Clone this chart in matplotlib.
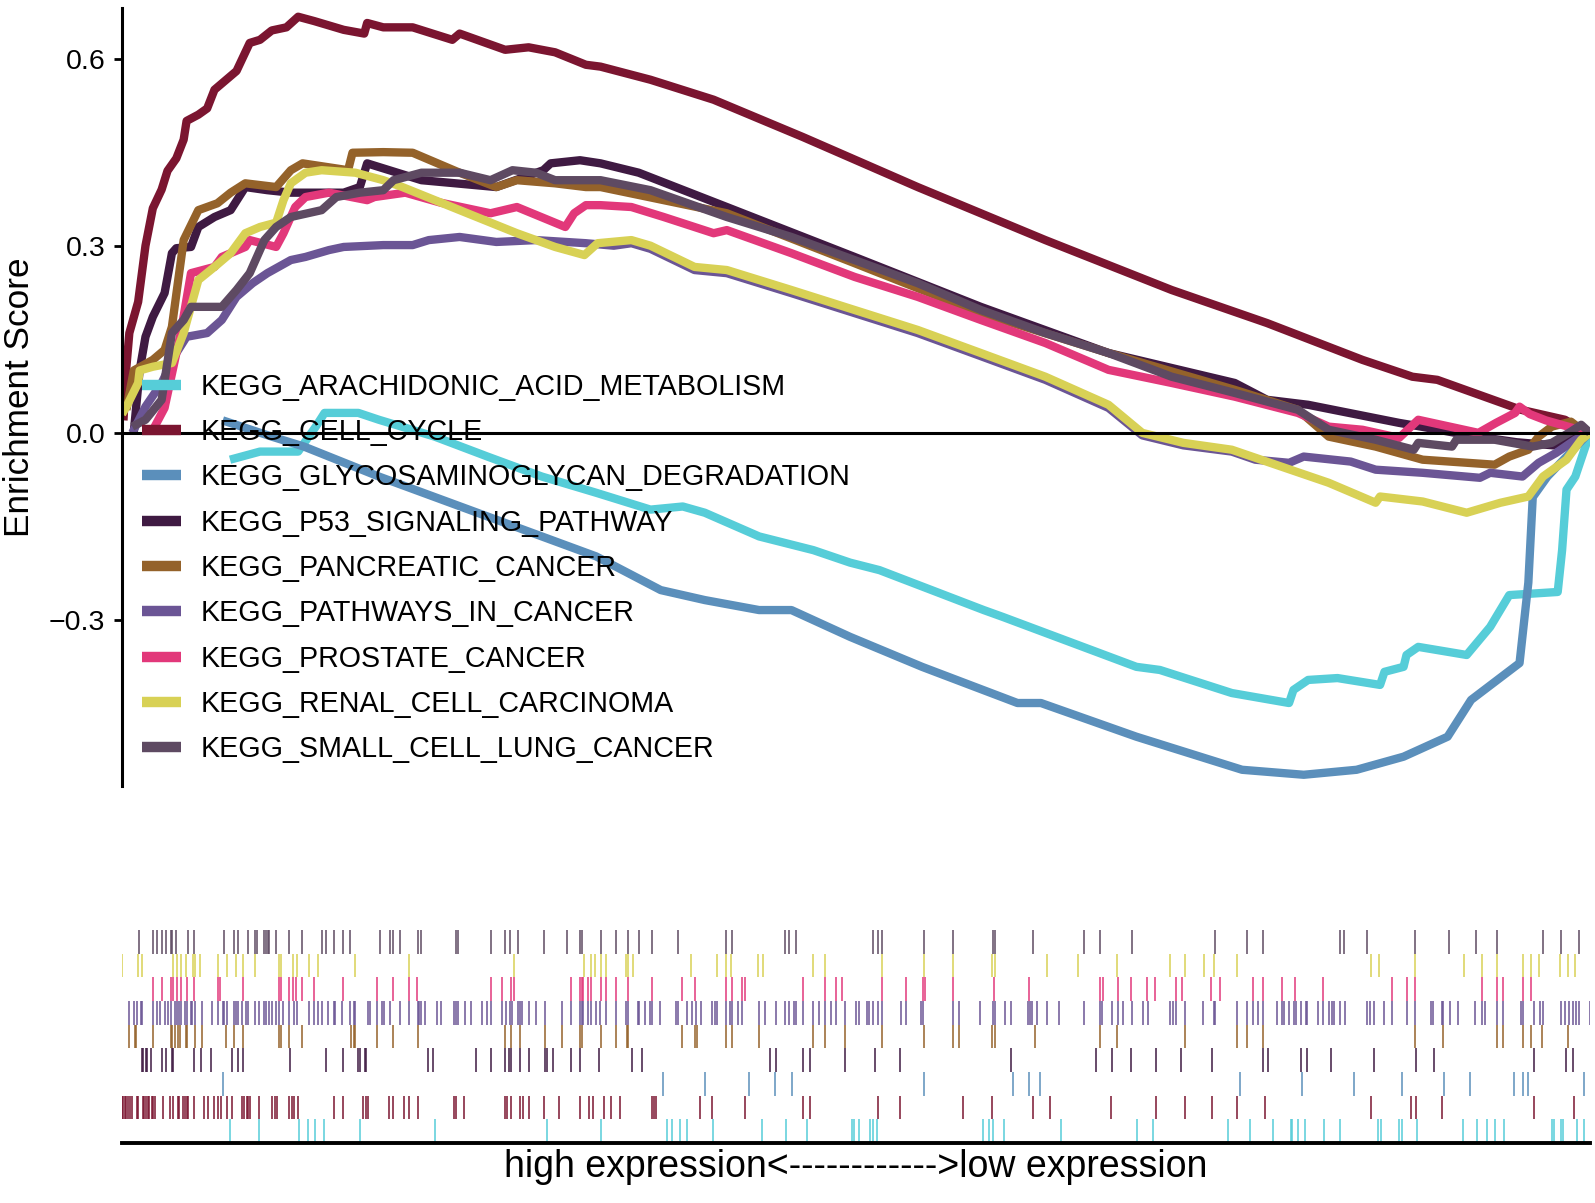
import matplotlib
matplotlib.use("Agg")
import matplotlib.pyplot as plt
from matplotlib.lines import Line2D

plt.rcParams['font.family'] = ['Liberation Sans', 'DejaVu Sans']

# ---------------- data ----------------
gene_sets = ["KEGG_ARACHIDONIC_ACID_METABOLISM", "KEGG_CELL_CYCLE",
             "KEGG_GLYCOSAMINOGLYCAN_DEGRADATION", "KEGG_P53_SIGNALING_PATHWAY",
             "KEGG_PANCREATIC_CANCER", "KEGG_PATHWAYS_IN_CANCER",
             "KEGG_PROSTATE_CANCER", "KEGG_RENAL_CELL_CARCINOMA",
             "KEGG_SMALL_CELL_LUNG_CANCER"]
colors = ["#56CDD8", "#7B1530", "#5B8FBB", "#3F1A42", "#94622A",
          "#6B5595", "#E2387A", "#D8D155", "#5E4A62"]

# running enrichment score (x = rank position in % of ranked list)
arach_x = [7.36, 9.4, 12.0, 12.6, 13.2, 13.8, 16.1, 17.5, 21.3, 24.9, 28.6, 32.3, 36.0, 38.2, 39.7,
           43.4, 47.1, 49.6, 51.6, 58.7, 60.0, 69.1, 70.7, 75.6, 79.5, 79.8, 80.8, 82.8, 85.7, 86.0,
           87.3, 87.5, 88.3, 91.6, 93.2, 94.5, 97.8, 98.1, 98.4, 99.0, 100]
arach_es = [-0.043, -0.03, -0.03, -0.01, 0.01, 0.032, 0.032, 0.021, -0.006, -0.038, -0.07, -0.096,
            -0.123, -0.118, -0.128, -0.166, -0.188, -0.208, -0.22, -0.284, -0.295, -0.375, -0.38,
            -0.417, -0.433, -0.412, -0.396, -0.393, -0.404, -0.383, -0.375, -0.356, -0.343, -0.356,
            -0.311, -0.26, -0.255, -0.188, -0.091, -0.07, 0.0]

cellcycle_x = [0.1, 0.3, 0.5, 1.1, 1.6, 2.1, 2.7, 3.1, 3.7, 4.2, 4.4, 5.2, 5.8, 6.3, 6.8, 7.8, 8.7,
               9.4, 10.2, 11.2, 12.0, 13.1, 15.1, 16.5, 16.7, 17.8, 19.8, 22.5, 23.0, 26.1, 27.7,
               29.5, 31.6, 32.6, 36.0, 40.3, 46.4, 54.2, 62.9, 71.5, 78.0, 84.5, 87.9, 89.6, 95.3,
               98.3, 99.4]
cellcycle_es = [0.02, 0.106, 0.16, 0.21, 0.30, 0.36, 0.39, 0.42, 0.44, 0.47, 0.50, 0.51, 0.52, 0.55,
                0.56, 0.58, 0.625, 0.63, 0.645, 0.65, 0.667, 0.66, 0.646, 0.64, 0.657, 0.65, 0.65,
                0.63, 0.64, 0.614, 0.618, 0.61, 0.59, 0.587, 0.566, 0.534, 0.474, 0.394, 0.309,
                0.229, 0.176, 0.117, 0.09, 0.085, 0.037, 0.021, 0.005]

glyco_x = [6.86, 10.2, 12.4, 17.5, 24.9, 32.3, 36.7, 39.7, 43.4, 45.6, 49.6, 54.5, 61.0, 62.6,
           69.1, 76.3, 80.5, 84.1, 87.3, 90.3, 91.9, 95.2, 95.8, 96.1, 97.1, 98.4, 99.7, 100]
glyco_es = [0.02, -0.006, -0.022, -0.07, -0.134, -0.198, -0.252, -0.268, -0.284, -0.284, -0.327,
            -0.375, -0.433, -0.433, -0.487, -0.54, -0.548, -0.54, -0.519, -0.487, -0.428, -0.369,
            -0.24, -0.103, -0.07, -0.038, -0.006, 0.0]

p53_x = [0.8, 1.2, 1.6, 2.1, 2.9, 3.4, 3.7, 4.7, 5.2, 6.3, 7.4, 8.4, 9.9, 11.5, 15.1, 16.2, 16.7,
         20.4, 25.5, 28.7, 29.2, 31.2, 32.6, 35.2, 41.2, 49.9, 58.5, 67.2, 75.8, 78.0, 80.8, 87.0,
         88.5, 92.0, 95.0, 97.5, 99.4]
p53_es = [0.0, 0.1, 0.154, 0.186, 0.224, 0.288, 0.296, 0.298, 0.33, 0.346, 0.357, 0.394, 0.389,
          0.385, 0.385, 0.394, 0.432, 0.405, 0.394, 0.421, 0.432, 0.437, 0.432, 0.417, 0.362, 0.282,
          0.202, 0.128, 0.08, 0.053, 0.045, 0.016, 0.01, -0.005, -0.015, -0.02, 0.0]

pancreatic_x = [0.3, 0.8, 2.1, 2.9, 3.4, 4.2, 5.2, 6.5, 7.4, 8.4, 10.5, 11.5, 12.3, 15.4, 15.7, 17.8,
                19.8, 23.0, 25.5, 26.9, 29.5, 31.6, 32.6, 41.2, 49.9, 58.5, 67.2, 75.8, 80.1, 82.2,
                85.4, 88.6, 93.5, 94.5, 95.8, 96.5, 97.4, 98.7, 99.7]
pancreatic_es = [0.037, 0.10, 0.117, 0.133, 0.17, 0.309, 0.357, 0.368, 0.385, 0.40, 0.394, 0.421,
                 0.432, 0.421, 0.449, 0.45, 0.449, 0.417, 0.394, 0.405, 0.40, 0.394, 0.394, 0.352,
                 0.272, 0.192, 0.128, 0.069, 0.037, -0.006, -0.022, -0.043, -0.051, -0.038, -0.027,
                 -0.006, 0.01, 0.018, 0.0]

pathways_x = [0.7, 1.6, 2.7, 3.7, 4.4, 5.8, 6.8, 7.8, 8.9, 9.9, 11.5, 12.5, 14.1, 15.1, 17.8, 19.8,
              20.9, 23.0, 25.5, 28.2, 31.6, 33.5, 34.7, 36.0, 39.0, 41.2, 45.6, 49.9, 54.2, 58.5,
              62.9, 67.2, 69.5, 72.3, 75.6, 77.2, 79.5, 80.5, 83.7, 85.4, 88.6, 92.5, 93.2, 95.4,
              96.5, 97.7, 99.0, 100]
pathways_es = [0.0, 0.042, 0.08, 0.128, 0.154, 0.16, 0.181, 0.218, 0.24, 0.256, 0.277, 0.282, 0.293,
               0.298, 0.301, 0.301, 0.309, 0.314, 0.306, 0.309, 0.304, 0.300, 0.304, 0.295, 0.261,
               0.256, 0.224, 0.192, 0.160, 0.123, 0.085, 0.040, -0.004, -0.02, -0.03, -0.043,
               -0.048, -0.038, -0.046, -0.059, -0.064, -0.072, -0.064, -0.07, -0.048, -0.032,
               -0.011, 0.0]

prostate_x = [2.0, 2.9, 4.0, 4.7, 6.3, 6.8, 8.4, 8.7, 10.5, 11.0, 11.8, 12.5, 14.1, 16.7, 17.2, 19.3,
              21.7, 25.1, 26.9, 30.2, 30.8, 31.6, 32.6, 34.7, 36.9, 40.3, 41.2, 45.6, 49.9, 54.2,
              58.5, 62.9, 67.2, 71.5, 75.8, 80.1, 82.2, 84.5, 87.0, 88.3, 92.4, 93.6, 94.9, 95.2,
              95.9, 97.0, 100]
prostate_es = [0.0, 0.04, 0.16, 0.256, 0.266, 0.282, 0.298, 0.309, 0.298, 0.32, 0.362, 0.378, 0.385,
               0.373, 0.378, 0.385, 0.369, 0.352, 0.362, 0.33, 0.352, 0.365, 0.365, 0.362, 0.346,
               0.32, 0.325, 0.288, 0.25, 0.218, 0.181, 0.144, 0.101, 0.08, 0.058, 0.032, 0.01,
               0.005, -0.008, 0.021, 0.0, 0.016, 0.032, 0.042, 0.03, 0.02, 0.0]

renal_x = [0.0, 0.3, 1.1, 1.2, 2.1, 3.4, 4.2, 5.2, 6.3, 7.4, 8.4, 9.4, 10.5, 11.0, 11.5, 12.5, 13.6,
           15.9, 17.8, 19.1, 23.0, 26.9, 29.5, 31.5, 32.4, 34.7, 36.0, 39.0, 41.2, 45.6, 49.9, 54.2,
           58.5, 62.9, 67.2, 69.5, 72.3, 75.6, 82.2, 85.4, 85.7, 88.6, 91.6, 93.9, 95.8, 96.8, 98.4,
           99.4, 100]
renal_es = [0.03, 0.042, 0.08, 0.10, 0.106, 0.112, 0.16, 0.245, 0.266, 0.288, 0.32, 0.33, 0.337,
            0.373, 0.40, 0.417, 0.421, 0.417, 0.405, 0.394, 0.357, 0.32, 0.298, 0.285, 0.304, 0.309,
            0.30, 0.266, 0.261, 0.229, 0.197, 0.165, 0.128, 0.09, 0.045, 0.0, -0.016, -0.027,
            -0.08, -0.112, -0.102, -0.11, -0.128, -0.112, -0.102, -0.07, -0.043, -0.011, 0.0]

sclc_x = [0.7, 1.6, 2.7, 3.4, 4.2, 4.7, 6.8, 7.8, 8.7, 9.7, 10.5, 11.5, 13.6, 14.6, 16.2, 17.8, 18.5,
          19.3, 20.4, 23.0, 25.1, 26.6, 28.2, 29.5, 31.6, 32.6, 36.0, 41.2, 45.6, 49.9, 54.2, 58.5,
          62.9, 67.2, 71.5, 75.8, 80.1, 82.2, 85.4, 88.0, 88.3, 90.6, 90.9, 93.5, 96.1, 97.4, 98.7,
          99.4, 100]
sclc_es = [0.01, 0.021, 0.053, 0.16, 0.181, 0.202, 0.202, 0.229, 0.256, 0.309, 0.33, 0.346, 0.357,
           0.378, 0.385, 0.389, 0.405, 0.41, 0.417, 0.417, 0.405, 0.421, 0.417, 0.405, 0.405, 0.405,
           0.389, 0.346, 0.314, 0.277, 0.24, 0.197, 0.16, 0.128, 0.09, 0.064, 0.037, 0.005, -0.011,
           -0.027, -0.016, -0.022, -0.011, -0.011, -0.022, -0.016, 0.002, 0.013, 0.0]

# hit positions (rank position in %)
arach_hits = [7.36, 9.30, 12.07, 12.64, 13.16, 13.77, 16.23, 21.3, 28.93, 32.63, 37.1, 37.49, 38.01,
              38.47, 40.24, 43.58, 45.24, 46.64, 49.7, 49.88, 50.2, 50.95, 51.18, 51.41, 58.68,
              59.08, 59.35, 60.11, 63.95, 69.12, 70.26, 75.32, 76.84, 78.43, 79.61, 79.72, 80.13,
              80.58, 81.9, 82.97, 85.54, 85.74, 87.01, 87.22, 88.19, 91.37, 92.28, 92.96, 93.53,
              94.17, 97.39, 97.55, 98.0, 98.14, 99.14, 99.59]
cellcycle_hits = [0.0, 0.1, 0.2, 0.3, 0.4, 0.55, 0.65, 1.0, 1.11, 1.41, 1.52, 1.64, 1.75, 1.86, 2.02,
                  2.14, 2.25, 2.82, 3.27, 3.5, 3.80, 3.89, 4.18, 4.30, 4.41, 4.52, 4.93, 5.61, 5.89,
                  6.30, 6.52, 6.75, 7.14, 7.52, 8.16, 8.34, 8.5, 8.61, 8.73, 9.30, 10.2, 10.39,
                  10.55, 11.39, 11.57, 11.75, 12.02, 14.41, 15.05, 16.45, 16.61, 16.75, 18.2, 18.45,
                  19.23, 19.57, 20.16, 22.59, 22.75, 23.27, 26.09, 26.25, 26.5, 27.11, 27.34, 27.75,
                  28.77, 29.77, 31.2, 31.81, 32.06, 32.84, 33.31, 33.93, 36.08, 36.24, 36.38, 39.37,
                  40.17, 42.44, 46.41, 46.86, 51.52, 53.0, 57.31, 59.24, 62.08, 63.21, 67.34, 70.44,
                  72.41, 74.23, 75.93, 77.86, 85.06, 87.78, 88.15, 89.95, 96.21, 98.91]
glyco_hits = [6.86, 36.83, 39.71, 42.68, 44.5, 45.62, 54.63, 60.67, 61.78, 62.53, 76.16, 80.36,
              83.95, 87.17, 90.05, 91.83, 94.82, 95.41, 95.75, 99.59]
p53_hits = [1.34, 1.45, 1.61, 1.68, 1.95, 2.70, 2.98, 3.39, 3.50, 4.93, 5.39, 6.05, 7.52, 7.93, 8.27,
            11.45, 13.89, 15.05, 16.11, 16.23, 16.52, 16.61, 20.82, 21.16, 24.14, 25.14, 26.09,
            26.36, 26.48, 27.11, 27.73, 28.81, 28.93, 29.34, 30.59, 31.2, 32.52, 34.77, 35.41,
            44.14, 44.53, 46.41, 46.86, 49.25, 51.3, 53.0, 60.56, 66.35, 67.41, 68.73, 70.44,
            72.14, 74.23, 77.7, 78.04, 80.31, 80.7, 82.36, 85.31, 88.15, 89.39, 96.21, 98.37, 98.87]
pancreatic_hits = [0.48, 0.89, 0.95, 2.09, 3.32, 3.43, 3.61, 3.80, 3.95, 4.36, 4.41, 4.98, 5.48,
                   7.09, 7.64, 8.27, 10.70, 10.82, 11.39, 12.25, 15.61, 15.77, 15.89, 17.36, 18.45,
                   20.14, 26.09, 26.5, 27.11, 28.81, 29.95, 31.2, 31.36, 32.63, 33.63, 34.38, 34.49,
                   38.12, 39.03, 39.14, 41.12, 41.53, 43.39, 47.09, 47.89, 49.25, 51.75, 54.63,
                   56.58, 57.02, 59.24, 59.47, 62.2, 66.62, 67.8, 72.41, 75.93, 76.61, 77.7, 88.08,
                   90.01, 93.64, 94.05, 95.41, 95.98, 96.71, 98.48]
pathways_hits = [0.48, 0.84, 1.0, 1.30, 1.39, 2.09, 2.36, 2.59, 2.93, 3.16, 3.32, 3.61, 3.73, 3.91,
                 4.0, 4.30, 4.41, 4.70, 4.80, 4.98, 5.48, 6.16, 6.57, 6.86, 6.98, 7.14, 7.64, 7.75,
                 7.93, 8.16, 8.45, 8.57, 9.07, 9.34, 9.68, 9.80, 10.02, 10.20, 10.5, 10.7, 11.0,
                 11.39, 11.73, 11.91, 12.77, 13.09, 13.34, 13.61, 14.0, 14.41, 14.48, 14.98, 15.55,
                 15.77, 15.89, 16.75, 16.91, 17.36, 17.70, 17.82, 18.27, 18.95, 19.52, 20.14, 20.25,
                 20.36, 20.66, 21.45, 21.73, 22.64, 22.75, 22.89, 23.39, 23.77, 24.52, 24.86,
                 25.14, 25.87, 26.14, 26.43, 26.55, 27.0, 27.11, 27.22, 27.73, 28.2, 28.81, 30.0,
                 30.59, 31.2, 31.31, 31.43, 31.72, 31.95, 32.27, 32.56, 32.95, 33.63, 34.31, 34.45,
                 35.13, 35.24, 35.63, 35.97, 36.08, 36.65, 37.72, 37.9, 38.46, 38.8, 39.07, 39.44,
                 40.17, 40.39, 40.5, 41.12, 41.42, 41.53, 41.94, 42.26, 43.39, 43.8, 44.53, 45.16,
                 45.46, 45.8, 45.91, 46.41, 47.09, 47.5, 47.89, 48.27, 48.63, 49.25, 49.98, 50.2,
                 50.73, 50.89, 51.18, 51.52, 51.75, 53.07, 53.41, 54.41, 54.55, 56.63, 57.02, 58.45,
                 59.31, 59.47, 60.15, 60.56, 61.74, 61.85, 61.97, 62.31, 62.99, 63.85, 65.55, 66.62,
                 66.78, 67.46, 67.87, 68.21, 68.78, 69.57, 69.87, 71.39, 71.62, 71.78, 72.41, 73.66,
                 74.39, 74.45, 75.93, 76.61, 77.02, 77.36, 77.75, 78.65, 79.04, 79.18, 79.5, 79.86,
                 79.97, 80.31, 80.63, 80.74, 81.45, 81.83, 82.24, 82.4, 82.58, 82.97, 83.31, 84.79,
                 85.01, 85.29, 85.99, 86.49, 87.51, 88.08, 89.17, 89.33, 89.9, 90.01, 90.46, 91.03,
                 92.17, 92.62, 92.85, 93.64, 94.1, 95.3, 95.41, 96.21, 96.6, 96.82, 98.0, 98.3,
                 98.57, 98.82, 99.05, 99.25, 100.0]
prostate_hits = [2.09, 2.70, 3.32, 3.50, 3.73, 4.0, 4.41, 4.91, 6.57, 6.68, 8.23, 10.70, 10.82,
                 11.39, 11.68, 11.84, 12.25, 13.09, 15.05, 17.36, 18.45, 19.52, 20.09, 25.14, 25.87,
                 26.5, 26.72, 30.59, 31.2, 31.31, 31.43, 31.72, 31.95, 32.63, 32.95, 33.63, 34.45,
                 36.08, 38.12, 39.03, 41.12, 41.53, 42.26, 42.44, 46.41, 47.89, 48.63, 49.07, 51.75,
                 53.41, 54.59, 54.7, 56.58, 59.42, 61.81, 66.62, 66.85, 67.82, 68.73, 69.8, 70.37,
                 71.78, 72.19, 74.19, 74.8, 77.02, 77.7, 78.99, 79.9, 81.83, 86.49, 87.51, 88.08,
                 92.62, 93.64, 94.05, 95.41, 95.98]
renal_hits = [0.0, 1.07, 1.34, 3.50, 3.73, 4.0, 4.36, 4.82, 4.98, 5.32, 6.57, 7.18, 7.75, 8.27, 9.07,
              10.70, 10.82, 11.68, 11.95, 12.77, 13.34, 15.84, 19.52, 26.72, 31.5, 31.96, 32.23,
              32.63, 32.95, 34.31, 34.45, 34.79, 38.74, 40.5, 41.12, 41.48, 43.35, 43.68, 47.09,
              47.89, 51.75, 54.63, 56.58, 59.24, 59.47, 62.99, 65.1, 67.8, 71.39, 72.41, 73.71,
              74.39, 75.93, 85.07, 85.6, 88.08, 91.44, 92.62, 93.64, 95.41, 95.98, 96.55, 97.96,
              98.48, 98.98]
sclc_hits = [1.16, 2.09, 2.36, 2.70, 2.97, 3.32, 3.43, 3.66, 4.47, 4.93, 6.97, 7.63, 7.92, 8.56,
             9.06, 9.17, 9.67, 9.79, 9.92, 10.01, 10.49, 11.38, 12.24, 13.60, 13.87, 14.46, 15.03,
             15.53, 17.57, 18.26, 18.44, 18.94, 20.19, 20.35, 22.73, 22.87, 25.14, 26.09, 26.43,
             26.95, 28.77, 30.34, 31.20, 31.31, 32.63, 33.63, 34.45, 35.24, 36.08, 37.90, 41.12,
             41.53, 45.16, 45.46, 45.91, 51.18, 51.52, 51.75, 54.63, 56.58, 59.35, 59.47, 62.03,
             65.55, 66.62, 68.78, 74.45, 76.61, 77.7, 82.97, 83.27, 84.79, 88.08, 90.42, 92.21,
             93.64, 96.82, 98.0, 99.25]

es_x = [arach_x, cellcycle_x, glyco_x, p53_x, pancreatic_x, pathways_x, prostate_x, renal_x, sclc_x]
es_y = [arach_es, cellcycle_es, glyco_es, p53_es, pancreatic_es, pathways_es, prostate_es,
        renal_es, sclc_es]
hits = [arach_hits, cellcycle_hits, glyco_hits, p53_hits, pancreatic_hits, pathways_hits,
        prostate_hits, renal_hits, sclc_hits]

yticks = [-0.3, 0.0, 0.3, 0.6]
ytick_labels = ["\u22120.3", "0.0", "0.3", "0.6"]

# ---------------- figure ----------------
W, H = 1595, 1203
fig = plt.figure(figsize=(W / 100, H / 100), dpi=100)

L, R = 122, 1590
ax = fig.add_axes([L / W, (H - 786) / H, (R - L) / W, (786 - 8) / H])
ax2 = fig.add_axes([L / W, (H - 1143) / H, (R - L) / W, (1143 - 930) / H])

for x, y, c in zip(es_x, es_y, colors):
    ax.plot(x, y, color=c, lw=6.0, solid_joinstyle='round', solid_capstyle='butt', zorder=2)
ax.axhline(0, color='black', lw=2.2, zorder=3)

ax.set_xlim(0, 100)
ax.set_ylim(-0.566, 0.681)
for s in ['top', 'right', 'bottom']:
    ax.spines[s].set_visible(False)
ax.spines['left'].set_linewidth(2.2)
ax.set_xticks([])
ax.set_yticks(yticks)
ax.set_yticklabels(ytick_labels)
ax.tick_params(axis='y', length=6, width=2.0, pad=6, labelsize=20.5, colors='black')
ax.set_ylabel("Enrichment Score", fontsize=25.3, va='center')
ax.yaxis.set_label_coords((20 - L) / (R - L), 0.5)

handles = [Line2D([], [], color=c, lw=7.5, solid_capstyle='butt') for c in colors]
leg = ax.legend(handles, gene_sets, loc='upper left', bbox_to_anchor=(0.0136, 0.5312),
                frameon=False, fontsize=20.6, handlelength=1.36, handletextpad=0.7,
                labelspacing=0.605, borderpad=0, borderaxespad=0)
leg.set_zorder(5)

# rug panel
for i, (h, c) in enumerate(zip(hits, colors)):
    ax2.vlines(h, i, i + 1, color=c, lw=1.1)
ax2.set_xlim(0, 100)
ax2.set_ylim(0, 9)
for s in ['top', 'right', 'left']:
    ax2.spines[s].set_visible(False)
ax2.spines['bottom'].set_linewidth(2.8)
ax2.set_xticks([])
ax2.set_yticks([])
ax2.set_xlabel("high expression<------------>low expression", fontsize=27, va='center')
ax2.xaxis.set_label_coords(0.5, -(1167 - 1143) / (1143 - 930))

fig.savefig("out.png", dpi=100)
